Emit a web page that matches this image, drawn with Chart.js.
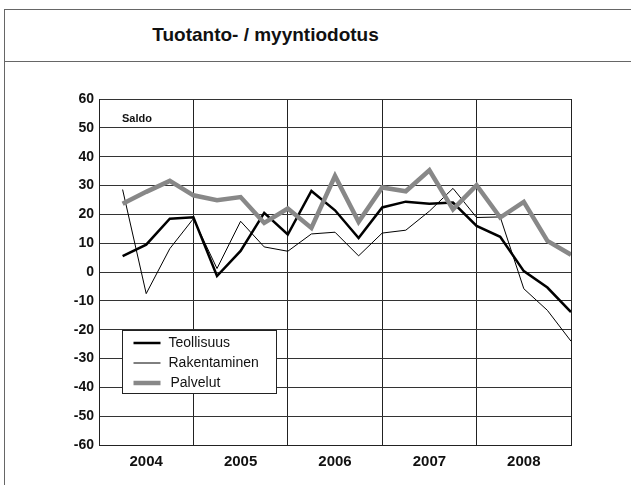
<!DOCTYPE html>
<html>
<head>
<meta charset="utf-8">
<script src="https://cdn.jsdelivr.net/npm/chart.js@4"></script>
<style>
  body { margin: 0; background: #fff; font-family: "Liberation Sans", Arial, sans-serif; }
  #frame { position: absolute; left: 4px; top: 9px; width: 700px; height: 600px;
           border-left: 1px solid #666; border-top: 1px solid #666; }
  #titlebar { position: absolute; left: 4px; top: 61px; width: 700px; border-top: 1px solid #666; }
  #title { position: absolute; left: 0; width: 531px; top: 24px; text-align: center;
           font-weight: bold; font-size: 19px; color: #111; }
  #wrap { position: absolute; left: 0; top: 0; width: 631px; height: 485px; }
</style>
</head>
<body>
<div id="frame"></div>
<div id="titlebar"></div>
<div id="title">Tuotanto- / myyntiodotus</div>
<div id="wrap"><canvas id="chart"></canvas></div>
<script>
const years = ['2004', '2005', '2006', '2007', '2008'];
// quarterly values, 2004 Q1 .. 2008 Q4
const teollisuus = [5.5, 9.5, 18.5, 19, -1.4, 7.3, 20.5, 13, 28.1, 21.4,
                    11.8, 22.4, 24.4, 23.7, 24.1, 16, 12.2, 0.3, -5.4, -13.9];
const rakentaminen = [28.6, -7.5, 8.1, 18.5, 1.2, 17.6, 8.7, 7.2, 13.2, 13.8,
                      5.6, 13.5, 14.5, 21.1, 29, 18.9, 19.1, -5.8, -13.3, -24];
const palvelut = [23.7, 27.8, 31.6, 26.6, 24.9, 26, 17, 22, 15.3, 33.3,
                  17.4, 29.3, 28, 35.3, 21.7, 30.1, 18.9, 24.3, 10.8, 6];
const yTicks = [-60, -50, -40, -30, -20, -10, 0, 10, 20, 30, 40, 50, 60];

const toPoints = arr => arr.map((v, i) => ({ x: i + 1, y: v }));

const series = [
  { label: 'Teollisuus', data: teollisuus, color: '#000', width: 2.5 },
  { label: 'Rakentaminen', data: rakentaminen, color: '#000', width: 1 },
  { label: 'Palvelut', data: palvelut, color: '#888', width: 4.5 }
];

const boxLegend = {
  id: 'boxLegend',
  afterDraw(chart) {
    const ctx = chart.ctx;
    const ca = chart.chartArea;
    ctx.save();
    // "Saldo" note
    ctx.fillStyle = '#111';
    ctx.font = 'bold 11px "Liberation Sans", Arial, sans-serif';
    ctx.textBaseline = 'middle';
    ctx.fillText('Saldo', ca.left + 23, 119);
    // legend box
    const x = ca.left + 23.5, y = 330.5, w = 154, h = 63;
    ctx.fillStyle = '#fff';
    ctx.fillRect(x, y, w, h);
    ctx.strokeStyle = '#222';
    ctx.lineWidth = 1;
    ctx.strokeRect(x, y, w, h);
    ctx.font = '14px "Liberation Sans", Arial, sans-serif';
    series.forEach((s, i) => {
      const ly = y + 12.5 + i * 20;
      ctx.strokeStyle = s.color;
      ctx.lineWidth = s.width;
      ctx.beginPath();
      ctx.moveTo(x + 11, ly);
      ctx.lineTo(x + 38, ly);
      ctx.stroke();
      ctx.fillStyle = '#111';
      ctx.fillText(s.label, x + 46 + (i === 2 ? 2 : 0), ly);
    });
    ctx.restore();
  }
};

new Chart(document.getElementById('chart'), {
  type: 'line',
  data: {
    datasets: series.map(s => ({
      label: s.label,
      data: toPoints(s.data),
      borderColor: s.color,
      borderWidth: s.width,
      pointRadius: 0,
      tension: 0,
      fill: false
    })).reverse()
  },
  options: {
    responsive: true,
    maintainAspectRatio: false,
    animation: false,
    layout: { padding: { top: 99, right: 60, bottom: 0, left: 0 } },
    plugins: { legend: { display: false }, tooltip: { enabled: false } },
    scales: {
      x: {
        type: 'linear',
        min: 0,
        max: 20,
        afterBuildTicks: scale => {
          scale.ticks = [];
          for (let v = 0; v <= 20; v += 2) scale.ticks.push({ value: v });
        },
        afterFit: scale => { scale.height = 40; },
        grid: {
          color: c => (c.tick && c.tick.value % 4 === 0) ? '#222' : 'rgba(0,0,0,0)',
          drawTicks: false
        },
        border: { display: true, color: '#222' },
        ticks: {
          autoSkip: false,
          maxRotation: 0,
          padding: 8,
          color: '#111',
          font: { family: '"Liberation Sans", Arial, sans-serif', size: 15, weight: 'bold' },
          callback: v => (v % 4 === 2) ? years[(v - 2) / 4] : ''
        }
      },
      y: {
        min: -60,
        max: 60,
        afterBuildTicks: scale => { scale.ticks = yTicks.map(v => ({ value: v })); },
        afterFit: scale => { scale.width = 99; },
        grid: { color: '#333', drawTicks: false },
        border: { display: true, color: '#222' },
        ticks: {
          padding: 5,
          color: '#111',
          font: { family: '"Liberation Sans", Arial, sans-serif', size: 14, weight: 'bold' }
        }
      }
    }
  },
  plugins: [boxLegend]
});
</script>
</body>
</html>
